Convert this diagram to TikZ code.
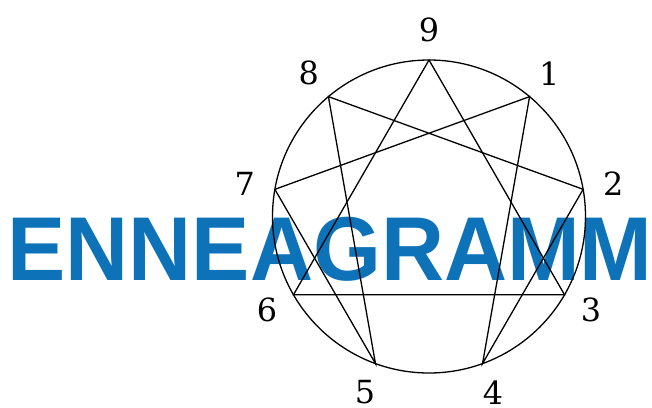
\documentclass[tikz,border=0pt]{standalone}
\usepackage{fontspec}
\usetikzlibrary{calc}
\setmainfont{DejaVu Serif}
\newfontfamily\titlefont{Liberation Sans}
\definecolor{ennblue}{HTML}{0E72B9}
\tikzset{
  enn/.style={line width=1.3bp, black, line join=miter},
  numlabel/.style={font=\fontsize{32}{36}\selectfont, inner sep=0pt},
  title/.style={font=\titlefont\bfseries\fontsize{91}{100}\selectfont, text=ennblue, inner sep=0pt, anchor=base west, xscale=0.963, transform shape}
}
\begin{document}
\begin{tikzpicture}[x=1bp,y=-1bp]
\useasboundingbox (0,0) rectangle (652,407);
\coordinate (c) at (429,216.5);
\node[title] (t) at (7.5,280) {ENNEAGRAMM};
\foreach \i in {0,...,8} {
  \pgfmathsetmacro{\ang}{90-40*\i}
  \coordinate (p\i) at ($(c)+(\ang:156.5bp)$);
}
\foreach \i/\lab in {0/9,1/1,2/2,3/3,4/4,5/5,6/6,7/7,8/8} {
  \pgfmathsetmacro{\ang}{90-40*\i}
  \node[numlabel] (l\lab) at ($(c)+(\ang:187bp)$) {\lab};
}
\draw[enn] (c) circle (156.5bp);
\draw[enn] (p0) -- (p3) -- (p6) -- cycle;
\draw[enn] (p1) -- (p4) -- (p2) -- (p8) -- (p5) -- (p7) -- cycle;
\end{tikzpicture}
\end{document}
